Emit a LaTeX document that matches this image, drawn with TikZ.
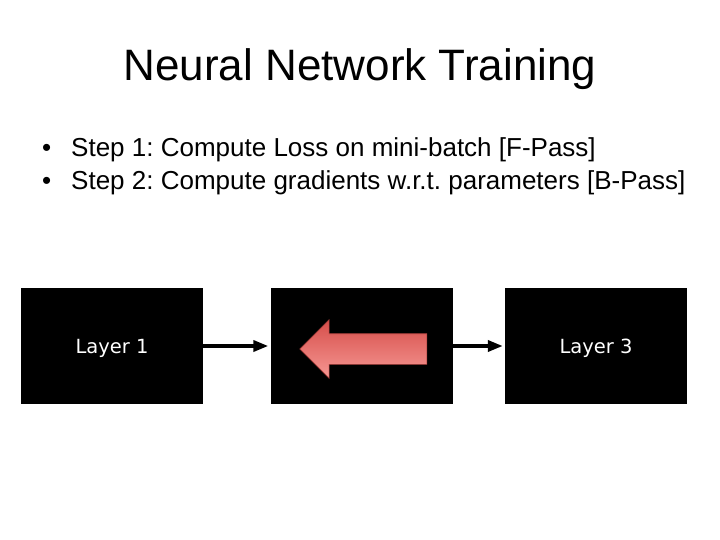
\documentclass[tikz,border=0pt]{standalone}
\usepackage{fontspec}
\setmainfont{Liberation Sans}
\newfontfamily\layerfont{DejaVu Sans}
\usetikzlibrary{arrows.meta, shapes.arrows}
\definecolor{gradtop}{RGB}{214,78,74}
\definecolor{gradbottom}{RGB}{246,152,148}
\definecolor{gradedge}{RGB}{165,62,58}
\frenchspacing
\begin{document}
\begin{tikzpicture}[x = 1pt, y = -1pt,
	layer/.style = {fill = black, minimum width = 182pt, minimum height = 116pt, inner sep = 0pt,
		text height = 14pt, text depth = 0pt, text = white, font = \layerfont\fontsize{19.5}{22}\selectfont},
	pass/.style = {line width = 3.5pt, shorten > = 2pt, -{Triangle[length = 15pt, width = 11pt]}},
	bullet/.style = {anchor = base west, inner sep = 0pt, font = \fontsize{26}{30}\selectfont}]
	\useasboundingbox (0,0) rectangle (720,540);
	% title and the two steps
	\node[font = \fontsize{44}{50}\selectfont] (title) at (360,69) {Neural Network Training};
	\node[bullet] (dotA) at (42,157) {•};
	\node[bullet] (stepA) at (71,157) {Step 1: Compute Loss on mini-batch [F-Pass]};
	\node[bullet] (dotB) at (42,190) {•};
	\node[bullet] (stepB) at (71,190) {Step 2: Compute gradients w.r.t. parameters [B-Pass]};
	% layers
	\node[layer] (layerA) at (112,346) {Layer 1};
	\node[layer] (layerB) at (361.5,346) {};
	\node[layer] (layerC) at (596,346) {Layer 3};
	\draw[pass] (layerA) -- (layerB);
	\draw[pass] (layerB) -- (layerC);
	% backward pass
	\node[single arrow, shape border rotate = 180, minimum width = 58pt, minimum height = 127pt,
		single arrow head extend = 14pt, inner xsep = 0pt, inner ysep = 15pt, top color = gradtop,
		bottom color = gradbottom, draw = gradedge, line width = .6pt] (back) at (371,349) {};
\end{tikzpicture}
\end{document}
